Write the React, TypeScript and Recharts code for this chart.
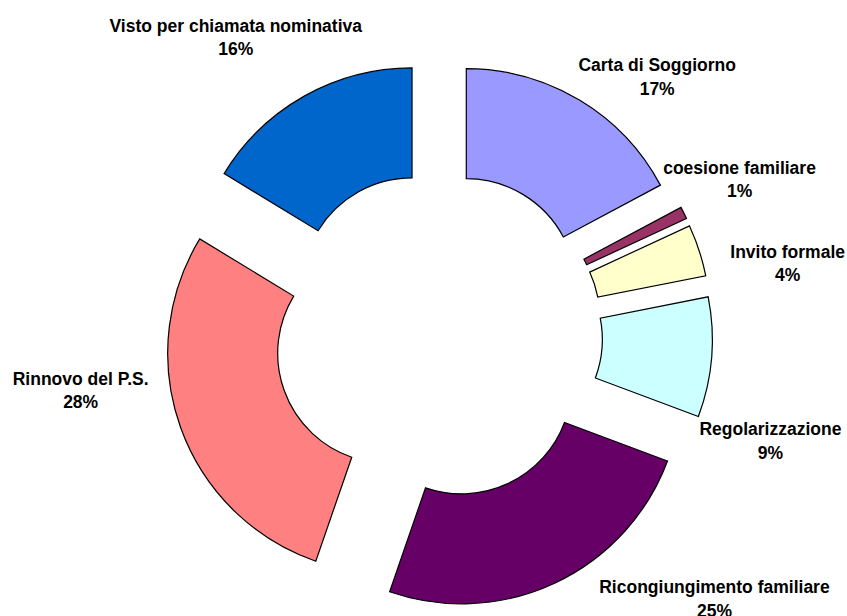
import React from "react";
import { PieChart, Pie, Sector } from "recharts";

// slices, clockwise from 12 o'clock
const categories = [
  "Carta di Soggiorno",
  "coesione familiare",
  "Invito formale",
  "Regolarizzazione",
  "Ricongiungimento familiare",
  "Rinnovo del P.S.",
  "Visto per chiamata nominativa",
];
const shares = [17.2, 0.9, 3.8, 8.8, 24.6, 28.4, 16.3];
const colors = ["#9999FF", "#993366", "#FFFFCC", "#CCFFFF", "#660066", "#FF8080", "#0066CC"];

const data = categories.map((name, i) => ({ name, value: shares[i] }));
const total = shares.reduce((a, b) => a + b, 0);

const EXPLODE = 54;
const LABEL_GAP = 50;
// Excel-like "best fit" placement of the labels
const labelNudge: [number, number][] = [
  [52, 14],
  [11, -17],
  [41, 23],
  [9, 74],
  [138, -35],
  [-53, -60],
  [-44, -21],
];

const RAD = Math.PI / 180;

const renderSlice = (props: any) => {
  const { cx, cy, innerRadius, outerRadius, startAngle, endAngle, midAngle, index } = props;
  const ux = Math.cos(-midAngle * RAD);
  const uy = Math.sin(-midAngle * RAD);
  const r = outerRadius + EXPLODE + LABEL_GAP;
  const [nx, ny] = labelNudge[index];
  const lx = cx + r * ux + nx;
  const ly = cy + r * uy + ny;
  const pct = Math.round((shares[index] / total) * 100);
  return (
    <g key={`slice-${index}`}>
      <Sector
        cx={cx + EXPLODE * ux}
        cy={cy + EXPLODE * uy}
        innerRadius={innerRadius}
        outerRadius={outerRadius}
        startAngle={startAngle}
        endAngle={endAngle}
        fill={colors[index]}
        stroke="#000"
        strokeWidth={1.2}
      />
      <text
        x={lx}
        y={ly}
        textAnchor="middle"
        fontFamily="'Liberation Sans', Arial, sans-serif"
        fontWeight="bold"
        fontSize={17.5}
        fill="#000"
      >
        <tspan x={lx}>{categories[index]}</tspan>
        <tspan x={lx} dy={23.5}>{`${pct}%`}</tspan>
      </text>
    </g>
  );
};

export default function App() {
  return (
    <div style={{ position: "absolute", left: 0, top: 0, background: "#fff" }}>
      <PieChart width={847} height={616} margin={{ top: 0, right: 0, bottom: 0, left: 0 }}>
        <Pie
          data={data}
          dataKey="value"
          nameKey="name"
          cx={438.5}
          cy={335}
          innerRadius={110}
          outerRadius={220}
          startAngle={90}
          endAngle={-270}
          fill="none"
          stroke="none"
          label={renderSlice}
          labelLine={false}
          isAnimationActive={false}
        />
      </PieChart>
    </div>
  );
}
